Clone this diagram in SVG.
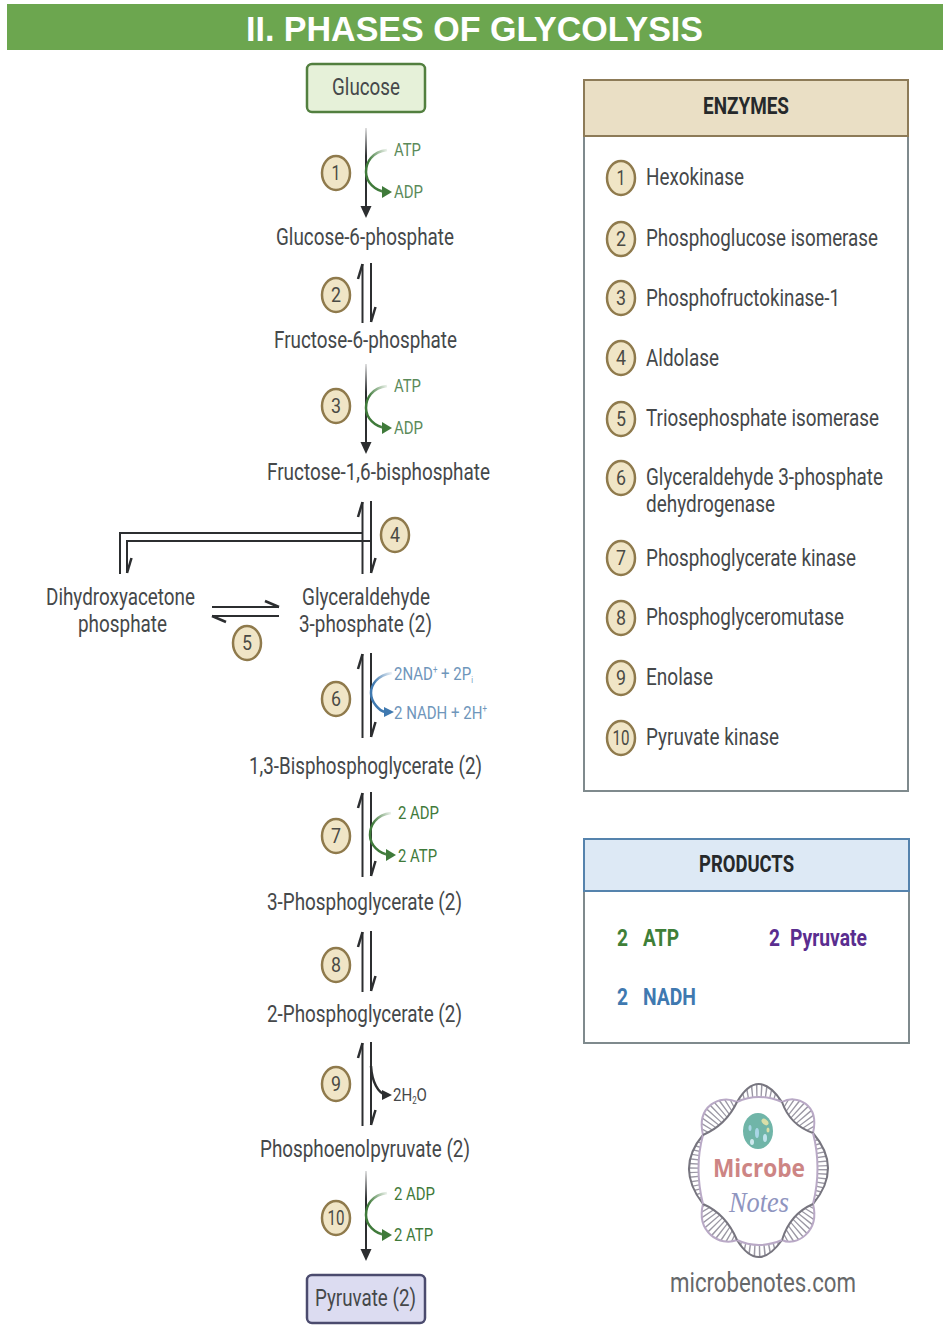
<svg xmlns="http://www.w3.org/2000/svg" width="950" height="1332" viewBox="0 0 950 1332">
<style>
text{font-family:Roboto,"Liberation Sans",sans-serif;fill:#45484a;font-size:23.5px}
.b{font-weight:700;fill:#26292b}
.sm{font-size:19px}
.g{fill:#5b8a5a}.dg{fill:#3f7a3a}.bl{fill:#6f96bb}
.pr{font-weight:700}
.num{text-anchor:middle;font-size:21px;fill:#4a4a44}
.disc{fill:#f0e5c6;stroke:#8f7a4c;stroke-width:2.5}
.eq{fill:none;stroke:#2c2e30;stroke-width:2}
.sh{fill:#2c2e30}
.dna{fill:none;stroke-width:2}
.o{stroke:#77757f}.l{stroke:#b9a9c6}
.barb{fill:none;stroke:#2c2e30;stroke-width:2.5}
</style>
<defs>
<linearGradient id="fade" x1="0" y1="0" x2="0" y2="1"><stop offset="0" stop-color="#2c2e30" stop-opacity=".15"/><stop offset=".35" stop-color="#2c2e30"/></linearGradient>
<linearGradient id="gfade" x1="1" y1="0" x2="0.3" y2=".5"><stop offset="0" stop-color="#3f7a3a" stop-opacity=".1"/><stop offset="1" stop-color="#3f7a3a"/></linearGradient>
<linearGradient id="bfade" x1="1" y1="0" x2="0.3" y2=".5"><stop offset="0" stop-color="#3f79b0" stop-opacity=".1"/><stop offset="1" stop-color="#3f79b0"/></linearGradient>
<g id="curveG"><path d="M21 0C6 2 0 12 0 22C0 32 9 41 20 42" fill="none" stroke="url(#gfade)" stroke-width="2.5"/><path d="M16 36L26 42L16 48Z" fill="#3f7a3a"/></g>
<g id="curveB"><path d="M21 0C6 2 0 12 0 20C0 30 9 38 14 39" fill="none" stroke="url(#bfade)" stroke-width="2.5"/><path d="M13 34L23 39L13 44Z" fill="#3f79b0"/></g>
<clipPath id="lobes">
<path d="M737 1102Q758 1066 782 1102Q758 1092 737 1102Z"/>
<path d="M782 1102C796 1094 820 1104 813 1133Q790 1125 782 1102Z"/>
<path d="M813 1133Q843 1168 813 1204Q822 1168 813 1133Z"/>
<path d="M813 1204C820 1232 796 1247 782 1240Q790 1214 813 1204Z"/>
<path d="M782 1240Q758 1274 737 1240Q758 1250 782 1240Z"/>
<path d="M737 1240C720 1247 696 1232 703 1204Q726 1214 737 1240Z"/>
<path d="M703 1204Q675 1168 703 1135Q694 1168 703 1204Z"/>
<path d="M703 1135C696 1106 720 1094 737 1102Q726 1125 703 1135Z"/>
</clipPath>
</defs>
<rect width="950" height="1332" fill="#fff"/>
<g id="title"><rect x="7" y="4" width="936" height="46" fill="#6ca64f"/><text x="246" y="41" textLength="457" lengthAdjust="spacingAndGlyphs" style="font-family:'Liberation Sans',sans-serif;font-weight:700;font-size:35px;fill:#fff">II. PHASES OF GLYCOLYSIS</text></g>
<g id="connectors">
<rect x="365" y="128" width="2" height="80" fill="url(#fade)"/><path class="sh" d="M360.5 206H371.5L366 218Z"/>
<use href="#curveG" x="366" y="150"/>
<path class="eq" d="M362.5 323V264"/><path class="barb" d="M362.5 264L358 279"/><path class="eq" d="M371 263V322"/><path class="barb" d="M371 322L375.5 307"/>
<rect x="365" y="364" width="2" height="80" fill="url(#fade)"/><path class="sh" d="M360.5 442H371.5L366 454Z"/>
<use href="#curveG" x="366" y="386"/>
<path class="eq" d="M362.5 574V502"/><path class="barb" d="M362.5 502L358 517"/><path class="eq" d="M371 501V573"/><path class="barb" d="M371 573L375.5 558"/>
<path class="eq" d="M362.5 533H120V574"/><path class="eq" d="M371 541H127V573"/><path class="barb" d="M127 573L131.5 558"/>
<path class="eq" d="M212 607H279"/><path class="barb" d="M279 607L265 601"/><path class="eq" d="M279 616H212"/><path class="barb" d="M212 616L226 622"/>
<path class="eq" d="M362.5 738V654"/><path class="barb" d="M362.5 654L358 669"/><path class="eq" d="M371 653V737"/><path class="barb" d="M371 737L375.5 722"/>
<use href="#curveB" x="371" y="673"/>
<path class="eq" d="M362.5 877V793"/><path class="barb" d="M362.5 793L358 808"/><path class="eq" d="M371 792V876"/><path class="barb" d="M371 876L375.5 861"/>
<use href="#curveG" x="370" y="813"/>
<path class="eq" d="M362.5 992V932"/><path class="barb" d="M362.5 932L358 947"/><path class="eq" d="M371 931V991"/><path class="barb" d="M371 991L375.5 976"/>
<path class="eq" d="M362.5 1126V1043"/><path class="barb" d="M362.5 1043L358 1058"/><path class="eq" d="M371 1042V1125"/><path class="barb" d="M371 1125L375.5 1110"/>
<path d="M371 1066C372 1082 378 1093 386 1095" fill="none" stroke="#2c2e30" stroke-width="2.5"/><path class="sh" d="M382 1090L392 1095L382 1100Z"/>
<rect x="365" y="1171" width="2" height="80" fill="url(#fade)"/><path class="sh" d="M360.5 1249H371.5L366 1261Z"/>
<use href="#curveG" x="366" y="1193"/>
</g>
<g id="glucose"><rect x="307" y="64" width="118" height="48" rx="5" fill="#e6f1d9" stroke="#527f3f" stroke-width="2.5"/><text x="332" y="95" textLength="68" lengthAdjust="spacingAndGlyphs">Glucose</text></g>
<g id="step1"><ellipse class="disc" cx="336" cy="173" rx="14" ry="17"/><text class="num" x="336" y="180" textLength="9" lengthAdjust="spacingAndGlyphs">1</text><text class="sm g" x="394" y="156" textLength="27" lengthAdjust="spacingAndGlyphs">ATP</text><text class="sm g" x="394" y="198" textLength="29" lengthAdjust="spacingAndGlyphs">ADP</text></g>
<g id="g6p"><text x="276" y="245" textLength="178" lengthAdjust="spacingAndGlyphs">Glucose-6-phosphate</text></g>
<g id="step2"><ellipse class="disc" cx="336" cy="295" rx="14" ry="17"/><text class="num" x="336" y="302" textLength="10" lengthAdjust="spacingAndGlyphs">2</text></g>
<g id="f6p"><text x="274" y="348" textLength="183" lengthAdjust="spacingAndGlyphs">Fructose-6-phosphate</text></g>
<g id="step3"><ellipse class="disc" cx="336" cy="406" rx="14" ry="17"/><text class="num" x="336" y="413" textLength="10" lengthAdjust="spacingAndGlyphs">3</text><text class="sm g" x="394" y="392" textLength="27" lengthAdjust="spacingAndGlyphs">ATP</text><text class="sm g" x="394" y="434" textLength="29" lengthAdjust="spacingAndGlyphs">ADP</text></g>
<g id="f16bp"><text x="267" y="480" textLength="223" lengthAdjust="spacingAndGlyphs">Fructose-1,6-bisphosphate</text></g>
<g id="step4"><ellipse class="disc" cx="395" cy="535" rx="14" ry="17"/><text class="num" x="395" y="542" textLength="10" lengthAdjust="spacingAndGlyphs">4</text></g>
<g id="dhap"><text x="46" y="605" textLength="149" lengthAdjust="spacingAndGlyphs">Dihydroxyacetone</text><text x="78" y="632" textLength="89" lengthAdjust="spacingAndGlyphs">phosphate</text></g>
<g id="step5"><ellipse class="disc" cx="247" cy="643" rx="14" ry="17"/><text class="num" x="247" y="650" textLength="10" lengthAdjust="spacingAndGlyphs">5</text></g>
<g id="g3p"><text x="302" y="605" textLength="128" lengthAdjust="spacingAndGlyphs">Glyceraldehyde</text><text x="299" y="632" textLength="133" lengthAdjust="spacingAndGlyphs">3-phosphate (2)</text></g>
<g id="step6"><ellipse class="disc" cx="336" cy="699" rx="14" ry="17"/><text class="num" x="336" y="706" textLength="10" lengthAdjust="spacingAndGlyphs">6</text><text class="sm bl" transform="translate(394 680) scale(.79 1)">2NAD<tspan font-size="10" dy="-7">+</tspan><tspan dy="7"> + 2P</tspan><tspan font-size="9" dy="3">i</tspan></text><text class="sm bl" transform="translate(394 719) scale(.79 1)">2 NADH + 2H<tspan font-size="10" dy="-7">+</tspan></text></g>
<g id="bpg"><text x="249" y="774" textLength="233" lengthAdjust="spacingAndGlyphs">1,3-Bisphosphoglycerate (2)</text></g>
<g id="step7"><ellipse class="disc" cx="336" cy="836" rx="14" ry="17"/><text class="num" x="336" y="843" textLength="10" lengthAdjust="spacingAndGlyphs">7</text><text class="sm dg" x="398" y="819" textLength="41" lengthAdjust="spacingAndGlyphs">2 ADP</text><text class="sm dg" x="398" y="862" textLength="39" lengthAdjust="spacingAndGlyphs">2 ATP</text></g>
<g id="pg3"><text x="267" y="910" textLength="195" lengthAdjust="spacingAndGlyphs">3-Phosphoglycerate (2)</text></g>
<g id="step8"><ellipse class="disc" cx="336" cy="965" rx="14" ry="17"/><text class="num" x="336" y="972" textLength="10" lengthAdjust="spacingAndGlyphs">8</text></g>
<g id="pg2"><text x="267" y="1022" textLength="195" lengthAdjust="spacingAndGlyphs">2-Phosphoglycerate (2)</text></g>
<g id="step9"><ellipse class="disc" cx="336" cy="1084" rx="14" ry="17"/><text class="num" x="336" y="1091" textLength="10" lengthAdjust="spacingAndGlyphs">9</text><text class="sm" transform="translate(393 1101) scale(.79 1)">2H<tspan font-size="10" dy="3">2</tspan><tspan dy="-3">O</tspan></text></g>
<g id="pep"><text x="260" y="1157" textLength="210" lengthAdjust="spacingAndGlyphs">Phosphoenolpyruvate (2)</text></g>
<g id="step10"><ellipse class="disc" cx="336" cy="1218" rx="14" ry="17"/><text class="num" x="336" y="1225" textLength="17" lengthAdjust="spacingAndGlyphs">10</text><text class="sm dg" x="394" y="1200" textLength="41" lengthAdjust="spacingAndGlyphs">2 ADP</text><text class="sm dg" x="394" y="1241" textLength="39" lengthAdjust="spacingAndGlyphs">2 ATP</text></g>
<g id="pyruvate"><rect x="307" y="1275" width="118" height="48" rx="5" fill="#dcdcf1" stroke="#4b4b6e" stroke-width="2.5"/><text x="315" y="1306" textLength="101" lengthAdjust="spacingAndGlyphs">Pyruvate (2)</text></g>
<g id="enzymes">
<rect x="584" y="80" width="324" height="711" fill="#fff" stroke="#7f8a8d" stroke-width="2"/>
<rect x="584" y="80" width="324" height="56" fill="#eadfc5" stroke="#8d7b58" stroke-width="2"/>
<text class="b" x="703" y="114" textLength="86" lengthAdjust="spacingAndGlyphs">ENZYMES</text>
<ellipse class="disc" cx="621" cy="178" rx="14" ry="17"/><text class="num" x="621" y="185" textLength="9" lengthAdjust="spacingAndGlyphs">1</text><text x="646" y="185" textLength="98" lengthAdjust="spacingAndGlyphs">Hexokinase</text>
<ellipse class="disc" cx="621" cy="239" rx="14" ry="17"/><text class="num" x="621" y="246" textLength="10" lengthAdjust="spacingAndGlyphs">2</text><text x="646" y="246" textLength="232" lengthAdjust="spacingAndGlyphs">Phosphoglucose isomerase</text>
<ellipse class="disc" cx="621" cy="298" rx="14" ry="17"/><text class="num" x="621" y="305" textLength="10" lengthAdjust="spacingAndGlyphs">3</text><text x="646" y="306" textLength="194" lengthAdjust="spacingAndGlyphs">Phosphofructokinase-1</text>
<ellipse class="disc" cx="621" cy="358" rx="14" ry="17"/><text class="num" x="621" y="365" textLength="10" lengthAdjust="spacingAndGlyphs">4</text><text x="646" y="366" textLength="73" lengthAdjust="spacingAndGlyphs">Aldolase</text>
<ellipse class="disc" cx="621" cy="419" rx="14" ry="17"/><text class="num" x="621" y="426" textLength="10" lengthAdjust="spacingAndGlyphs">5</text><text x="646" y="426" textLength="233" lengthAdjust="spacingAndGlyphs">Triosephosphate isomerase</text>
<ellipse class="disc" cx="621" cy="478" rx="14" ry="17"/><text class="num" x="621" y="485" textLength="10" lengthAdjust="spacingAndGlyphs">6</text><text x="646" y="485" textLength="237" lengthAdjust="spacingAndGlyphs">Glyceraldehyde 3-phosphate</text><text x="646" y="512" textLength="129" lengthAdjust="spacingAndGlyphs">dehydrogenase</text>
<ellipse class="disc" cx="621" cy="558" rx="14" ry="17"/><text class="num" x="621" y="565" textLength="10" lengthAdjust="spacingAndGlyphs">7</text><text x="646" y="566" textLength="210" lengthAdjust="spacingAndGlyphs">Phosphoglycerate kinase</text>
<ellipse class="disc" cx="621" cy="618" rx="14" ry="17"/><text class="num" x="621" y="625" textLength="10" lengthAdjust="spacingAndGlyphs">8</text><text x="646" y="625" textLength="198" lengthAdjust="spacingAndGlyphs">Phosphoglyceromutase</text>
<ellipse class="disc" cx="621" cy="678" rx="14" ry="17"/><text class="num" x="621" y="685" textLength="10" lengthAdjust="spacingAndGlyphs">9</text><text x="646" y="685" textLength="67" lengthAdjust="spacingAndGlyphs">Enolase</text>
<ellipse class="disc" cx="621" cy="738" rx="14" ry="17"/><text class="num" x="621" y="745" textLength="17" lengthAdjust="spacingAndGlyphs">10</text><text x="646" y="745" textLength="133" lengthAdjust="spacingAndGlyphs">Pyruvate kinase</text>
</g>
<g id="products">
<rect x="584" y="839" width="325" height="204" fill="#fff" stroke="#7f8a8d" stroke-width="2"/>
<rect x="584" y="839" width="325" height="52" fill="#dde9f5" stroke="#5583ad" stroke-width="2"/>
<text class="b" x="699" y="872" textLength="95" lengthAdjust="spacingAndGlyphs">PRODUCTS</text>
<g><text class="pr" x="617" y="946" textLength="11" lengthAdjust="spacingAndGlyphs" style="fill:#3f7f38">2</text><text class="pr" x="643" y="946" textLength="36" lengthAdjust="spacingAndGlyphs" style="fill:#3f7f38">ATP</text></g>
<g><text class="pr" x="769" y="946" textLength="11" lengthAdjust="spacingAndGlyphs" style="fill:#5a2d8f">2</text><text class="pr" x="790" y="946" textLength="77" lengthAdjust="spacingAndGlyphs" style="fill:#5a2d8f">Pyruvate</text></g>
<g><text class="pr" x="617" y="1005" textLength="11" lengthAdjust="spacingAndGlyphs" style="fill:#3f79b0">2</text><text class="pr" x="643" y="1005" textLength="53" lengthAdjust="spacingAndGlyphs" style="fill:#3f79b0">NADH</text></g>
</g>
<g id="logo">
<g clip-path="url(#lobes)"><ellipse cx="758" cy="1169" rx="62" ry="72" fill="none" stroke="#9b98a4" stroke-width="46" stroke-dasharray="1.3 3"/></g>
<path class="dna o" d="M737 1102Q758 1066 782 1102"/><path class="dna l" d="M737 1102Q758 1092 782 1102"/>
<path class="dna l" d="M782 1102C796 1094 820 1104 813 1133"/><path class="dna o" d="M782 1102Q790 1125 813 1133"/>
<path class="dna o" d="M813 1133Q843 1168 813 1204"/><path class="dna l" d="M813 1133Q822 1168 813 1204"/>
<path class="dna l" d="M813 1204C820 1232 796 1247 782 1240"/><path class="dna o" d="M813 1204Q790 1214 782 1240"/>
<path class="dna o" d="M782 1240Q758 1274 737 1240"/><path class="dna l" d="M782 1240Q758 1250 737 1240"/>
<path class="dna l" d="M737 1240C720 1247 696 1232 703 1204"/><path class="dna o" d="M737 1240Q726 1214 703 1204"/>
<path class="dna o" d="M703 1204Q675 1168 703 1135"/><path class="dna l" d="M703 1204Q694 1168 703 1135"/>
<path class="dna l" d="M703 1135C696 1106 720 1094 737 1102"/><path class="dna o" d="M703 1135Q726 1125 737 1102"/>
<ellipse cx="758" cy="1131" rx="15" ry="18" fill="#70b5a8"/>
<ellipse cx="765" cy="1122" rx="4" ry="2.5" fill="#d9dfa8" transform="rotate(40 765 1122)"/><ellipse cx="757" cy="1133" rx="2" ry="5" fill="#a9d6e6"/><ellipse cx="765" cy="1138" rx="2" ry="4" fill="#bfe3ec"/><ellipse cx="750" cy="1128" rx="1.5" ry="3" fill="#a9d6e6"/><ellipse cx="752" cy="1142" rx="2" ry="3" fill="#cfe9ee"/><ellipse cx="768" cy="1130" rx="1.5" ry="2.5" fill="#d9dfa8"/>
<text x="713" y="1177" textLength="92" lengthAdjust="spacingAndGlyphs" style="font-family:'Open Sans','Liberation Sans',sans-serif;font-weight:700;font-size:25px;fill:#cd8584">Microbe</text>
<text x="729" y="1212" textLength="60" lengthAdjust="spacingAndGlyphs" style="font-family:'Liberation Serif',serif;font-style:italic;font-size:30px;fill:#8f95bf">Notes</text>
<text x="670" y="1292" textLength="186" lengthAdjust="spacingAndGlyphs" style="font-size:27px;fill:#66686a">microbenotes.com</text>
</g>
</svg>
